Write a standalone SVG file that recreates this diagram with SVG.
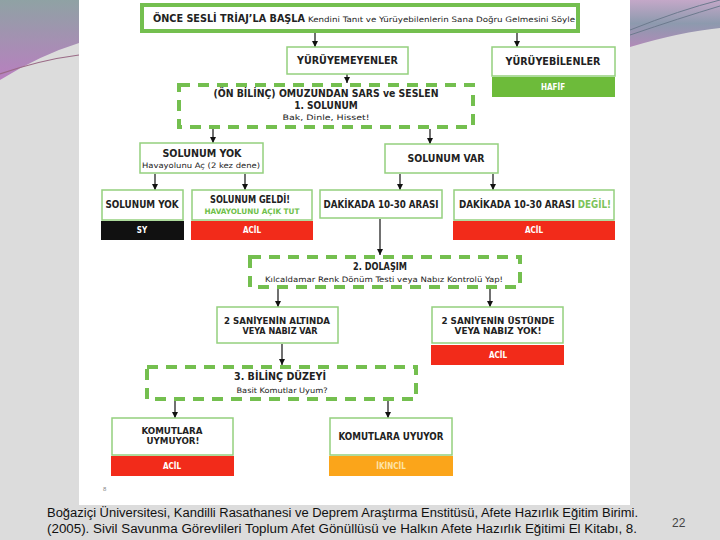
<svg xmlns="http://www.w3.org/2000/svg" width="720" height="540" viewBox="0 0 720 540">
<defs>
<linearGradient id="gl" x1="0" y1="0" x2="0" y2="1">
<stop offset="0" stop-color="#8fa2a4"/>
<stop offset="1" stop-color="#b97fc0"/>
</linearGradient>
<linearGradient id="gr" x1="0" y1="0" x2="0" y2="1">
<stop offset="0" stop-color="#c4a8c8"/>
<stop offset="0.5" stop-color="#8d9aae"/>
<stop offset="1" stop-color="#b18ab8"/>
</linearGradient>
<marker id="ah" viewBox="0 0 10 10" refX="10" refY="5" markerWidth="6" markerHeight="6" markerUnits="userSpaceOnUse" orient="auto">
<path d="M0,0 L10,5 L0,10 Z" fill="#111"/>
</marker>
<style>
.thick{fill:#fff;stroke:#74bf4f;stroke-width:4}
.dash{fill:#fff;stroke:#74bf4f;stroke-width:4;stroke-dasharray:11 8}
.box{fill:#fff;stroke:#94d07e;stroke-width:1.5}
.h{font-family:'DejaVu Sans Condensed','DejaVu Sans',sans-serif;font-weight:bold;font-size:10px;fill:#222;text-anchor:middle}
.h2{font-family:'DejaVu Sans Condensed','DejaVu Sans',sans-serif;font-weight:bold;font-size:9px;fill:#222;text-anchor:middle}
.s{font-family:'DejaVu Sans Condensed','DejaVu Sans',sans-serif;font-size:7.5px;fill:#222;text-anchor:middle}
.w{font-family:'DejaVu Sans Condensed','DejaVu Sans',sans-serif;font-weight:bold;font-size:8px;fill:#fff;text-anchor:middle}
.red{fill:#f22b1a}
.foot{font-family:'Liberation Sans',Arial,sans-serif;font-size:12.5px;fill:#111}
#connectors line{stroke:#111;stroke-width:1.2;marker-end:url(#ah)}
</style>
</defs>
<rect x="0" y="0" width="720" height="540" fill="#dcdcdc"/>
<path d="M0,0 L79,0 L79,43 Q40,55 0,80 Z" fill="url(#gl)"/>
<path d="M0,74 Q40,60 79,55" fill="none" stroke="#9a6a86" stroke-width="1.2"/>
<path d="M630,0 L720,0 L720,28 Q680,32 630,47 Z" fill="url(#gr)"/>
<path d="M630,30 Q680,10 720,0" fill="none" stroke="#6d7a8e" stroke-width="1"/>
<path d="M630,35 Q680,18 720,6" fill="none" stroke="#6d7a8e" stroke-width="1"/>
<rect x="79" y="0" width="551" height="505" fill="#fff"/>

<g id="connectors">
<line x1="315" y1="33" x2="315" y2="47"/>
<line x1="517" y1="33" x2="517" y2="47"/>
<line x1="347" y1="74" x2="347" y2="83"/>
<line x1="213" y1="129" x2="213" y2="143"/>
<line x1="430" y1="129" x2="430" y2="144"/>
<line x1="155" y1="174" x2="155" y2="190"/>
<line x1="245" y1="174" x2="245" y2="190"/>
<line x1="400" y1="174" x2="400" y2="190"/>
<line x1="493" y1="174" x2="493" y2="190"/>
<line x1="380" y1="219" x2="380" y2="255"/>
<line x1="278" y1="289" x2="278" y2="307"/>
<line x1="490" y1="289" x2="490" y2="307"/>
<line x1="282" y1="344" x2="282" y2="365"/>
<line x1="175" y1="401" x2="175" y2="418"/>
<line x1="388" y1="401" x2="388" y2="418"/>
</g>

<g id="start">
<rect class="thick" x="142" y="5" width="436" height="26"/>
<text class="h" x="153" y="22" font-size="11" textLength="152" lengthAdjust="spacingAndGlyphs" style="text-anchor:start;font-size:11px">ÖNCE SESLİ TRİAJ’LA BAŞLA</text>
<text class="s" x="308" y="22" style="text-anchor:start" textLength="267" lengthAdjust="spacingAndGlyphs">Kendini Tanıt ve Yürüyebilenlerin Sana Doğru Gelmesini Söyle</text>
</g>

<g id="yuruyemeyenler">
<rect class="box" x="287" y="47" width="121" height="27"/>
<text class="h" x="347.5" y="64" textLength="101" lengthAdjust="spacingAndGlyphs">YÜRÜYEMEYENLER</text>
</g>

<g id="yuruyebilenler">
<rect class="box" x="492" y="47" width="123" height="29"/>
<text class="h" x="553" y="65" textLength="95" lengthAdjust="spacingAndGlyphs">YÜRÜYEBİLENLER</text>
<rect x="492" y="77" width="123" height="20" fill="#6dbb3a"/>
<text class="w" x="553" y="90">HAFİF</text>
</g>

<g id="solunum1">
<rect class="dash" x="179" y="85" width="294" height="42"/>
<text class="h" x="326" y="97" textLength="225" lengthAdjust="spacingAndGlyphs">(ÖN BİLİNÇ) OMUZUNDAN SARS ve SESLEN</text>
<text class="h" x="326" y="109">1. SOLUNUM</text>
<text class="s" x="326" y="120" textLength="87" lengthAdjust="spacingAndGlyphs">Bak, Dinle, Hisset!</text>
</g>

<g id="solunumyok1">
<rect class="box" x="140" y="143" width="123" height="30"/>
<text class="h" x="202" y="157" textLength="79" lengthAdjust="spacingAndGlyphs">SOLUNUM YOK</text>
<text class="s" x="201" y="168" textLength="118" lengthAdjust="spacingAndGlyphs">Havayolunu Aç (2 kez dene)</text>
</g>

<g id="solunumvar">
<rect class="box" x="385" y="144" width="113" height="29"/>
<text class="h" x="446" y="162" textLength="77" lengthAdjust="spacingAndGlyphs">SOLUNUM VAR</text>
</g>

<g id="solunumyok2">
<rect class="box" x="102" y="190" width="81" height="30"/>
<text class="h" x="142" y="208" textLength="73" lengthAdjust="spacingAndGlyphs">SOLUNUM YOK</text>
<rect x="101" y="221" width="83" height="19" fill="#111"/>
<text class="w" x="142" y="233">SY</text>
</g>

<g id="solunumgeldi">
<rect class="box" x="192" y="190" width="120" height="30"/>
<text class="h" x="250" y="203" textLength="80" lengthAdjust="spacingAndGlyphs">SOLUNUM GELDİ!</text>
<text class="s" x="252" y="214" style="fill:#6fbf4a;font-weight:bold" textLength="95" lengthAdjust="spacingAndGlyphs">HAVAYOLUNU AÇIK TUT</text>
<rect class="red" x="191" y="221" width="122" height="19"/>
<text class="w" x="252" y="233">ACİL</text>
</g>

<g id="dakika">
<rect class="box" x="320" y="190" width="122" height="28"/>
<text class="h" x="381" y="208" textLength="115" lengthAdjust="spacingAndGlyphs">DAKİKADA 10-30 ARASI</text>
</g>

<g id="dakikadegil">
<rect class="box" x="454" y="190" width="160" height="30"/>
<text class="h" x="459" y="208" style="text-anchor:start" textLength="152" lengthAdjust="spacingAndGlyphs">DAKİKADA 10-30 ARASI <tspan fill="#7cc35a">DEĞİL!</tspan></text>
<rect class="red" x="453" y="221" width="162" height="19"/>
<text class="w" x="534" y="233">ACİL</text>
</g>

<g id="dolasim">
<rect class="dash" x="250" y="257" width="270" height="30"/>
<text class="h" x="380" y="270" textLength="54" lengthAdjust="spacingAndGlyphs">2. DOLAŞIM</text>
<text class="s" x="384" y="282" textLength="238" lengthAdjust="spacingAndGlyphs">Kılcaldamar Renk Dönüm Testi veya Nabız Kontrolü Yap!</text>
</g>

<g id="altinda">
<rect class="box" x="217" y="307" width="121" height="36"/>
<text class="h2" x="277" y="324" textLength="106" lengthAdjust="spacingAndGlyphs">2 SANİYENİN ALTINDA</text>
<text class="h2" x="280" y="334" textLength="75" lengthAdjust="spacingAndGlyphs">VEYA NABIZ VAR</text>
</g>

<g id="ustunde">
<rect class="box" x="432" y="307" width="131" height="36"/>
<text class="h2" x="498" y="324" textLength="113" lengthAdjust="spacingAndGlyphs">2 SANİYENİN ÜSTÜNDE</text>
<text class="h2" x="498" y="334" textLength="87" lengthAdjust="spacingAndGlyphs">VEYA NABIZ YOK!</text>
<rect class="red" x="431" y="345" width="133" height="20"/>
<text class="w" x="498" y="358">ACİL</text>
</g>

<g id="bilinc">
<rect class="dash" x="147" y="367" width="269" height="32"/>
<text class="h" x="280" y="380" textLength="92" lengthAdjust="spacingAndGlyphs">3. BİLİNÇ DÜZEYİ</text>
<text class="s" x="282" y="393" textLength="91" lengthAdjust="spacingAndGlyphs">Basit Komutlar Uyum?</text>
</g>

<g id="uymuyor">
<rect class="box" x="112" y="418" width="121" height="37"/>
<text class="h2" x="172" y="434" textLength="61" lengthAdjust="spacingAndGlyphs">KOMUTLARA</text>
<text class="h2" x="173" y="444" textLength="53" lengthAdjust="spacingAndGlyphs">UYMUYOR!</text>
<rect class="red" x="111" y="456" width="123" height="20"/>
<text class="w" x="172" y="469">ACİL</text>
</g>

<g id="uyuyor">
<rect class="box" x="330" y="418" width="122" height="37"/>
<text class="h" x="391" y="440" textLength="105" lengthAdjust="spacingAndGlyphs">KOMUTLARA UYUYOR</text>
<rect x="329" y="456" width="124" height="20" fill="#fba51a"/>
<text class="w" x="391" y="469" style="fill:#fde3a8">İKİNCİL</text>
</g>

<text x="103" y="491" font-family="'Liberation Sans',sans-serif" font-size="6" fill="#888">8</text>
<text class="foot" x="47" y="517" textLength="591" lengthAdjust="spacingAndGlyphs">Boğaziçi Üniversitesi, Kandilli Rasathanesi ve Deprem Araştırma Enstitüsü, Afete Hazırlık Eğitim Birimi.</text>
<text class="foot" x="47" y="533" textLength="590" lengthAdjust="spacingAndGlyphs">(2005). Sivil Savunma Görevlileri Toplum Afet Gönüllüsü ve Halkın Afete Hazırlık Eğitimi El Kitabı, 8.</text>
<text x="672" y="527" font-family="'Liberation Sans',sans-serif" font-size="12" fill="#444">22</text>
</svg>
